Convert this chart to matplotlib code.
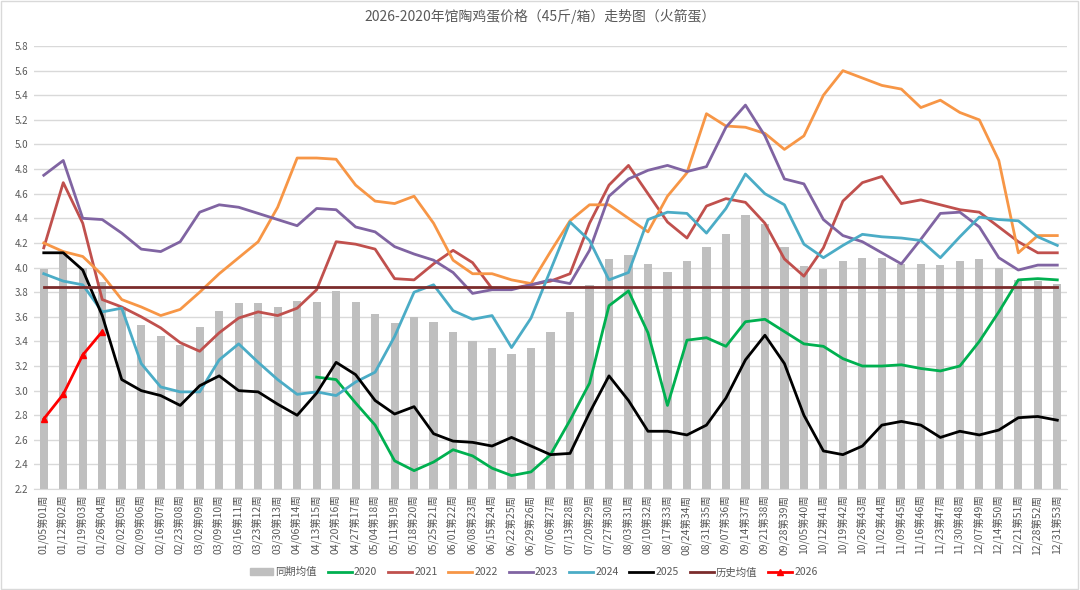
import numpy as np
import matplotlib
matplotlib.use('Agg')
import matplotlib.pyplot as plt
from matplotlib.patches import Patch, Rectangle
from matplotlib.lines import Line2D

plt.rcParams['font.family'] = ['Noto Sans CJK SC', 'DejaVu Sans']

# week labels
weeks = ["01/05第01周", "01/12第02周", "01/19第03周", "01/26第04周", "02/02第05周", "02/09第06周",
         "02/16第07周", "02/23第08周", "03/02第09周", "03/09第10周", "03/16第11周", "03/23第12周",
         "03/30第13周", "04/06第14周", "04/13第15周", "04/20第16周", "04/27第17周", "05/04第18周",
         "05/11第19周", "05/18第20周", "05/25第21周", "06/01第22周", "06/08第23周", "06/15第24周",
         "06/22第25周", "06/29第26周", "07/06第27周", "07/13第28周", "07/20第29周", "07/27第30周",
         "08/03第31周", "08/10第32周", "08/17第33周", "08/24第34周", "08/31第35周", "09/07第36周",
         "09/14第37周", "09/21第38周", "09/28第39周", "10/05第40周", "10/12第41周", "10/19第42周",
         "10/26第43周", "11/02第44周", "11/09第45周", "11/16第46周", "11/23第47周", "11/30第48周",
         "12/07第49周", "12/14第50周", "12/21第51周", "12/28第52周", "12/31第53周"]

# 同期均值 (bars)
avg_same = [3.99, 4.12, 4.00, 3.88, 3.68, 3.53, 3.44, 3.37, 3.52, 3.65, 3.71, 3.71, 3.68, 3.73,
            3.72, 3.81, 3.72, 3.62, 3.55, 3.60, 3.56, 3.48, 3.40, 3.35, 3.30, 3.35, 3.48, 3.64,
            3.86, 4.07, 4.10, 4.03, 3.96, 4.05, 4.17, 4.27, 4.43, 4.35, 4.17, 4.01, 3.99, 4.05,
            4.08, 4.08, 4.03, 4.03, 4.02, 4.05, 4.07, 4.00, 3.90, 3.89, 3.87]

# 2020 starts at week 15
y2020 = [None] * 14 + [3.11, 3.09, 2.90, 2.72, 2.43, 2.35, 2.42, 2.52, 2.47, 2.37, 2.31, 2.34,
                       2.48, 2.76, 3.06, 3.69, 3.81, 3.47, 2.88, 3.41, 3.43, 3.36, 3.56, 3.58,
                       3.48, 3.38, 3.36, 3.26, 3.20, 3.20, 3.21, 3.18, 3.16, 3.20, 3.40, 3.64,
                       3.90, 3.91, 3.90]
y2021 = [4.16, 4.69, 4.36, 3.74, 3.68, 3.60, 3.51, 3.39, 3.32, 3.47, 3.59, 3.64, 3.61, 3.67,
         3.82, 4.21, 4.19, 4.15, 3.91, 3.90, 4.03, 4.14, 4.04, 3.83, 3.83, 3.86, 3.89, 3.95,
         4.36, 4.67, 4.83, 4.60, 4.37, 4.24, 4.50, 4.56, 4.53, 4.36, 4.07, 3.93, 4.16, 4.54,
         4.69, 4.74, 4.52, 4.55, 4.51, 4.47, 4.45, 4.33, 4.21, 4.12, 4.12]
y2022 = [4.20, 4.13, 4.09, 3.94, 3.74, 3.68, 3.61, 3.66, 3.80, 3.95, 4.08, 4.21, 4.49, 4.89,
         4.89, 4.88, 4.67, 4.54, 4.52, 4.58, 4.36, 4.06, 3.95, 3.95, 3.90, 3.87, 4.13, 4.38,
         4.51, 4.51, 4.40, 4.29, 4.58, 4.77, 5.25, 5.15, 5.14, 5.09, 4.96, 5.07, 5.40, 5.60,
         5.54, 5.48, 5.45, 5.30, 5.36, 5.26, 5.20, 4.87, 4.12, 4.26, 4.26]
y2023 = [4.75, 4.87, 4.40, 4.39, 4.28, 4.15, 4.13, 4.21, 4.45, 4.51, 4.49, 4.44, 4.39, 4.34,
         4.48, 4.47, 4.33, 4.29, 4.17, 4.11, 4.06, 3.96, 3.79, 3.82, 3.82, 3.86, 3.90, 3.87,
         4.14, 4.58, 4.72, 4.79, 4.83, 4.78, 4.82, 5.14, 5.32, 5.07, 4.72, 4.68, 4.39, 4.26,
         4.21, 4.12, 4.03, 4.23, 4.44, 4.45, 4.33, 4.08, 3.98, 4.02, 4.02]
y2024 = [3.95, 3.89, 3.86, 3.64, 3.67, 3.22, 3.03, 2.99, 2.99, 3.25, 3.38, 3.23, 3.09, 2.97,
         2.99, 2.96, 3.07, 3.15, 3.44, 3.80, 3.86, 3.65, 3.58, 3.61, 3.35, 3.59, 3.98, 4.37,
         4.22, 3.90, 3.96, 4.39, 4.45, 4.44, 4.28, 4.48, 4.76, 4.60, 4.51, 4.19, 4.08, 4.18,
         4.27, 4.25, 4.24, 4.22, 4.08, 4.25, 4.41, 4.39, 4.38, 4.25, 4.18]
y2025 = [4.12, 4.12, 3.98, 3.61, 3.09, 3.00, 2.96, 2.88, 3.04, 3.12, 3.00, 2.99, 2.89, 2.80,
         2.98, 3.23, 3.13, 2.92, 2.81, 2.87, 2.65, 2.59, 2.58, 2.55, 2.62, 2.55, 2.48, 2.49,
         2.82, 3.12, 2.92, 2.67, 2.67, 2.64, 2.72, 2.94, 3.25, 3.45, 3.22, 2.80, 2.51, 2.48,
         2.55, 2.72, 2.75, 2.72, 2.62, 2.67, 2.64, 2.68, 2.78, 2.79, 2.76]
y2026 = [2.77, 2.97, 3.29, 3.48]
hist_avg = 3.84  # 历史均值

yticks = [2.2, 2.4, 2.6, 2.8, 3.0, 3.2, 3.4, 3.6, 3.8, 4.0, 4.2, 4.4, 4.6, 4.8, 5.0, 5.2, 5.4, 5.6, 5.8]

def arr(v):
    return np.array([np.nan if a is None else a for a in v], dtype=float)

x = np.arange(len(weeks))

fig = plt.figure(figsize=(10.8, 5.9), dpi=100)
ax = fig.add_axes([0.0315, 0.171, 0.9565, 0.751])

txt = '#595959'
ax.bar(x, avg_same, width=0.42, bottom=0, color='#BFBFBF', zorder=2)

series = [
    (y2020, '#00B050', '2020'),
    (y2021, '#C0504D', '2021'),
    (y2022, '#F79646', '2022'),
    (y2023, '#8064A2', '2023'),
    (y2024, '#4BACC6', '2024'),
    (y2025, '#000000', '2025'),
]
for vals, c, lab in series:
    ax.plot(x, arr(vals), color=c, lw=2, zorder=3)

ax.plot(x, [hist_avg] * len(x), color='#7B2C2C', lw=2, zorder=3)
ax.plot(x[:len(y2026)], y2026, color='#FF0000', lw=2, marker='^', markersize=5, zorder=4)

ax.set_xlim(-0.5, len(weeks) - 0.5)
ax.set_ylim(2.2, 5.8)
ax.set_yticks(yticks)
ax.set_yticklabels(['%.1f' % t for t in yticks], fontsize=7, color=txt)
ax.set_xticks(x)
ax.set_xticklabels(weeks, rotation=90, fontsize=7.5, color=txt)
ax.tick_params(axis='both', length=0, pad=4)
ax.grid(axis='y', color='#D9D9D9', lw=1, zorder=0)
ax.set_axisbelow(True)
for s in ['top', 'right', 'left']:
    ax.spines[s].set_visible(False)
ax.spines['bottom'].set_color('#D9D9D9')

fig.text(0.5, 0.972, '2026-2020年馆陶鸡蛋价格（45斤/箱）走势图（火箭蛋）',
         ha='center', va='center', fontsize=10, color=txt)

handles = [Patch(color='#BFBFBF')]
labels = ['同期均值']
for vals, c, lab in series:
    handles.append(Line2D([], [], color=c, lw=2))
    labels.append(lab)
handles.append(Line2D([], [], color='#7B2C2C', lw=2))
labels.append('历史均值')
handles.append(Line2D([], [], color='#FF0000', lw=2, marker='^', markersize=5))
labels.append('2026')
fig.legend(handles, labels, loc='center', bbox_to_anchor=(0.494, 0.03), ncol=9, frameon=False,
           fontsize=7.5, labelcolor=txt, handlelength=2.3, columnspacing=1.05, handletextpad=0.2)

fig.patches.append(Rectangle((0.001, 0.001), 0.997, 0.997, transform=fig.transFigure,
                             fill=False, edgecolor='#D9D9D9', lw=1))

fig.savefig('out.png', dpi=100)
